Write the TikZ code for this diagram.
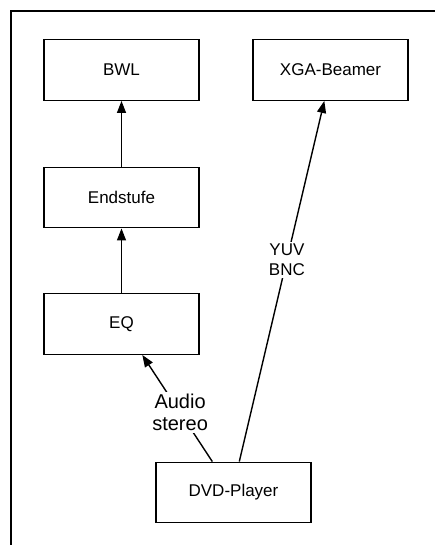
\documentclass[tikz,border=0pt]{standalone}
\usepackage{fontspec}
\setmainfont{Liberation Sans}
\usetikzlibrary{arrows.meta}
\begin{document}
\begin{tikzpicture}[x=1pt,y=-1pt,
  box/.style={draw, line width=1.4pt, minimum width=155pt, minimum height=60.5pt, inner sep=0pt, font=\fontsize{17}{20}\selectfont},
  conn/.style={line width=1.4pt, -{Triangle[length=12pt,width=9pt]}},
  lbl/.style={fill=white, align=center, inner sep=2pt},
  ]
\useasboundingbox (0,0) rectangle (434,545);
\draw[line width=1.8pt] (11,560) -- (11,11) -- (440,11);
\node[box] (bwl) at (121.5,70) {BWL};
\node[box] (xga) at (330.5,70) {XGA-Beamer};
\node[box] (end) at (121.5,197.5) {Endstufe};
\node[box] (eq) at (121.5,324) {EQ};
\node[box] (dvd) at (233.5,492.5) {DVD-Player};
\draw[conn] (end) -- (bwl);
\draw[conn] (eq) -- (end);
\draw[conn] ([xshift=57pt]dvd.north west) -- node[lbl, pos=0.46, font=\fontsize{20}{22}\selectfont] {Audio\\stereo} ([xshift=99pt]eq.south west);
\draw[conn] ([xshift=84pt]dvd.north west) -- node[lbl, pos=0.56, font=\fontsize{17}{20}\selectfont] {YUV\\BNC} ([xshift=72pt]xga.south west);
\end{tikzpicture}
\end{document}
